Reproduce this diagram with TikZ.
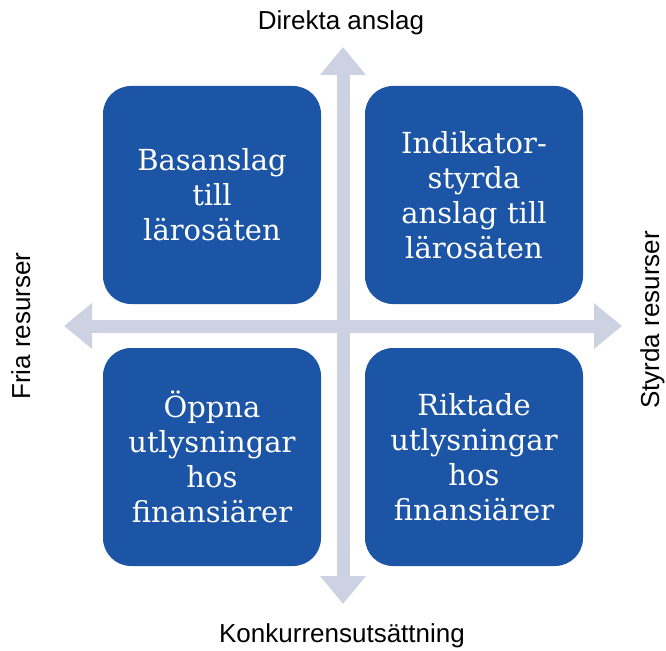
\documentclass[tikz,border=0pt]{standalone}
\usepackage{fontspec}
\setmainfont{DejaVu Serif}
\setsansfont{Liberation Sans}
\usepackage{xcolor}
\usepackage{tikz}
\usetikzlibrary{shapes,arrows.meta,positioning}
\definecolor{boxblue}{HTML}{1C55A5}
\definecolor{axisgray}{HTML}{CDD2E3}
\tikzstyle{quadrant} = [rectangle, rounded corners=28pt, minimum width=218pt, minimum height=218pt, text width=205pt, align=center, fill=boxblue, text=white, font=\fontsize{29}{35}\selectfont]
\tikzstyle{axislabel} = [font=\sffamily\fontsize{26}{30}\selectfont, anchor=base]

\begin{document}
\begin{tikzpicture}[x=1pt, y=-1pt]
    \tikzstyle{axis} = [draw=axisgray, line width=13pt, {Triangle[width=44pt,length=28pt]}-{Triangle[width=44pt,length=28pt]}]
    \useasboundingbox (0,0) rectangle (666,650);

    % Axes
    \coordinate (top) at (343,47);
    \coordinate (bottom) at (343,604);
    \coordinate (left) at (64,326);
    \coordinate (right) at (622,326);
    \draw[axis] (left) -- (right);
    \draw[axis] (top) -- (bottom);

    % Nodes
    \node (basanslag) [quadrant] at (212,195) {Basanslag\\till\\lärosäten};
    \node (indikator) [quadrant] at (474,195) {Indikator-\\styrda\\anslag till\\lärosäten};
    \node (oppna) [quadrant] at (212,457) {Öppna\\utlysningar\\hos\\finansiärer};
    \node (riktade) [quadrant] at (474,457) {Riktade\\utlysningar\\hos\\finansiärer};

    % Labels
    \node (direkta) [axislabel] at (341,30) {Direkta anslag};
    \node (konkurrens) [axislabel] at (342,642) {Konkurrensutsättning};
    \node (fria) [axislabel, rotate=90] at (30,326) {Fria resurser};
    \node (styrda) [axislabel, rotate=90] at (659,320) {Styrda resurser};

\end{tikzpicture}
\end{document}
